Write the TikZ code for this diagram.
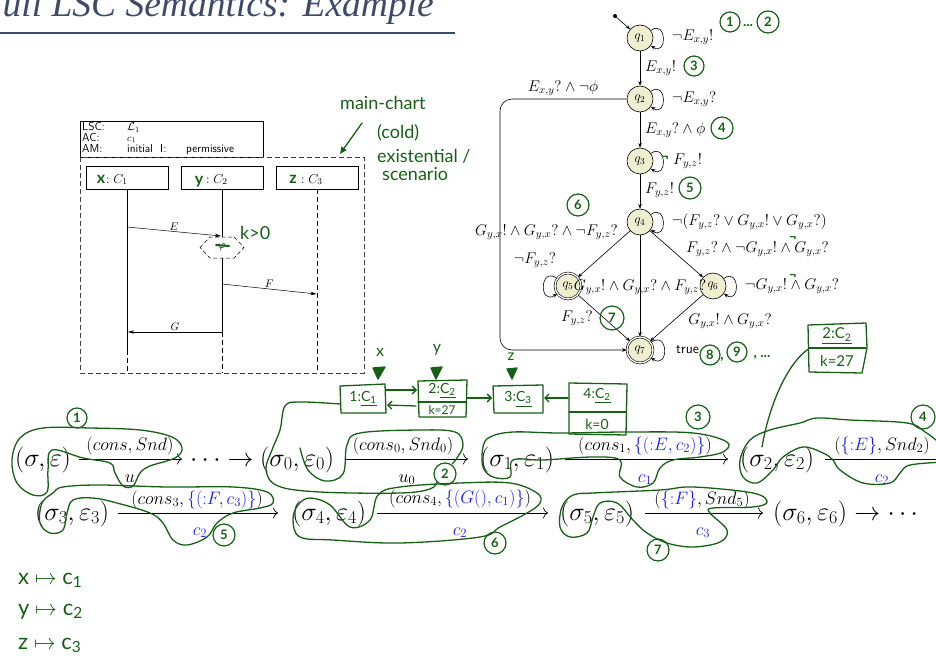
\RequirePackage{fix-cm}
\documentclass[tikz,border=0pt]{standalone}
\usepackage{amsmath,amssymb}
\usepackage{fontspec}
\newfontfamily\titlefont{Liberation Serif}
\newfontfamily\hand{Lato}
\usetikzlibrary{arrows.meta,calc}
\definecolor{hgreen}{RGB}{22,96,22}
\definecolor{qfill}{RGB}{240,238,208}
\definecolor{titleblue}{RGB}{62,74,104}
\definecolor{mblue}{RGB}{30,30,235}
\newcommand{\bl}[1]{\textcolor{mblue}{#1}}
\tikzset{
 hw/.style={hgreen, line width=1.3pt, line cap=round, line join=round},
 hwarrow/.style={hw, -{Straight Barb[length=4pt,width=8pt]}},
 hwtext/.style={text=hgreen, font=\hand\fontsize{18}{19}\selectfont, inner sep=0},
 hwnum/.style={circle, draw=hgreen, line width=1.2pt, text=hgreen, inner sep=0, minimum size=21pt, font=\hand\bfseries\fontsize{13}{13}\selectfont},
 state/.style={circle, draw, fill=qfill, minimum size=26pt, inner sep=0, line width=0.6pt, font=\fontsize{13}{13}\selectfont},
 accept/.style={state, double, double distance=1.3pt},
 trans/.style={-{Stealth[length=4.5pt,width=3.5pt]}, line width=0.6pt},
 albl/.style={inner sep=0, font=\fontsize{15.5}{16}\selectfont},
 rowfont/.style={inner sep=0, font=\fontsize{26}{28}\selectfont},
 rlbl/.style={inner sep=0, font=\fontsize{18}{20}\selectfont},
 runarrow/.style={-{Computer Modern Rightarrow[length=5pt,width=11pt]}, line width=0.7pt},
 lscsf/.style={inner sep=0, font=\sffamily\fontsize{11.5}{12}\selectfont, anchor=base west},
 inst/.style={draw, minimum width=82pt, minimum height=23pt, inner sep=0, line width=0.5pt},
 msg/.style={-{Stealth[length=6pt,width=3.5pt]}, line width=0.5pt},
 mlbl/.style={inner sep=1pt, font=\fontsize{11}{11}\selectfont},
 lsdash/.style={dashed, dash pattern=on 5pt off 3pt, line width=0.5pt},
}
\begin{document}
\begin{tikzpicture}[x=1pt,y=-1pt]
\useasboundingbox (0,0) rectangle (936,658);
\begin{scope}
\clip (0,0) rectangle (936,658);

% ---------- title ----------
\node[anchor=base east, inner sep=0, text=titleblue, font=\titlefont\itshape\fontsize{37.5}{40}\selectfont] (title) at (434,16.5) {Full LSC Semantics: Example};
\draw[titleblue, line width=2.4pt] (-5,33) -- (455,33);

% ---------- LSC ----------
\node[draw, anchor=north west, minimum width=183pt, minimum height=36pt, inner sep=0, line width=0.5pt] (hdr) at (80,121) {};
\node[lscsf] (t1) at (82,131) {LSC:};
\node[lscsf] (t1v) at (127,131) {$\mathcal{L}_1$};
\node[lscsf] (t2) at (82,141) {AC:};
\node[lscsf, font=\fontsize{10}{10}\selectfont] (t2v) at (127,141) {$c_1$};
\node[lscsf] (t3) at (82,152) {AM:};
\node[lscsf] (t3v) at (127,152) {initial};
\node[lscsf] (t3i) at (160,152) {I:};
\node[lscsf] (t3p) at (186,152) {permissive};
\draw[lsdash, black!75] (80,157) rectangle (364,373);

\node[inst] (i1) at (127,177.5) {};
\node[inst] (i2) at (222,177.5) {};
\node[inst] (i3) at (317.5,177.5) {};
\node[anchor=base west, inner sep=0, font=\fontsize{13}{14}\selectfont] (i1l) at (106,183) {$:C_1$};
\node[anchor=base west, inner sep=0, font=\fontsize{13}{14}\selectfont] (i2l) at (206,183) {$:C_2$};
\node[anchor=base west, inner sep=0, font=\fontsize{13}{14}\selectfont] (i3l) at (301,183) {$:C_3$};
\node[hwtext, anchor=base, font=\hand\bfseries\fontsize{16}{16}\selectfont] (i1h) at (101,183) {x};
\node[hwtext, anchor=base, font=\hand\bfseries\fontsize{16}{16}\selectfont] (i2h) at (199,184) {y};
\node[hwtext, anchor=base, font=\hand\bfseries\fontsize{16}{16}\selectfont] (i3h) at (293,183) {z};

\draw[line width=0.5pt] (i1.south) -- (127,350);
\draw[lsdash] (127,350) -- (127,373);
\draw[line width=0.5pt] (i2.south) -- (222,237);
\node[inner sep=0, font=\fontsize{11}{11}\selectfont] (cond) at (222,247.5) {$\varphi$};
\draw[lsdash, dash pattern=on 4pt off 2.5pt] ($(cond)+(-22,0)$) -- ++(10,-10.5) -- ++(24,0) -- ++(10,10.5) -- ++(-10,10.5) -- ++(-24,0) -- cycle;
\draw[line width=0.5pt] (222,258) -- (222,332);
\draw[lsdash] (222,332) -- (222,373);
\draw[lsdash] (i3.south) -- (317.5,373);

\draw[msg] (127,227) -- node[mlbl, above] (lE) {$E$} (221,236);
\draw[msg] (222,284) -- node[mlbl, above] (lF) {$F$} (316.5,294);
\draw[msg] (222,332) -- node[mlbl, above] (lG) {$G$} (128,332);

\draw[hw, line width=2pt] (216,245) -- (229,246);
\node[hwtext, anchor=west, font=\hand\fontsize{18}{18}\selectfont] (k0) at (240,233) {k>0};

\node[hwtext, anchor=base west] (mc1) at (340,110) {main-chart};
\node[hwtext, anchor=base west] (mc2) at (377,138) {(cold)};
\node[hwtext, anchor=base west] (mc3) at (377,162) {existential /};
\node[hwtext, anchor=base west] (mc4) at (382,180) {scenario};
\draw[hw, -{Triangle[length=7pt,width=6pt]}] (362,123) -- (340,154);

% ---------- automaton ----------
\node[state] (q1) at (640,38) {$q_1$};
\node[state] (q2) at (640,99) {$q_2$};
\node[state] (q3) at (640,161) {$q_3$};
\node[state] (q4) at (640,222) {$q_4$};
\node[accept] (q5) at (568,286) {$q_5$};
\node[state] (q6) at (713,286) {$q_6$};
\node[accept] (q7) at (640,350) {$q_7$};
\coordinate (init) at (615,16);
\fill (init) circle (2pt);
\draw[trans] (init) -- (q1);
\draw[trans] (q1) -- (q2);
\draw[trans] (q2) -- (q3);
\draw[trans] (q3) -- (q4);
\draw[trans] (q4) -- (q5);
\draw[trans] (q4) -- (q6);
\draw[trans] (q4) -- (q7);
\draw[trans] (q5) -- (q7);
\draw[trans] (q6) -- (q7);
\draw[trans] (q1) to[out=35,in=-35,distance=20pt] (q1);
\draw[trans] (q2) to[out=35,in=-35,distance=20pt] (q2);
\draw[trans] (q3) to[out=35,in=-35,distance=20pt] (q3);
\draw[trans] (q4) to[out=35,in=-35,distance=20pt] (q4);
\draw[trans] (q5) to[out=145,in=215,distance=22pt] (q5);
\draw[trans] (q6) to[out=35,in=-35,distance=20pt] (q6);
\draw[trans] (q7) to[out=35,in=-35,distance=22pt] (q7);
\draw[trans, rounded corners=12pt] (q2.west) -- (500,99) -- (500,350) -- (q7.west);

\node[albl, anchor=west] (l11) at (672,37) {$\neg E_{x,y}!$};
\node[albl, anchor=west] (l12) at (645,68) {$E_{x,y}!$};
\node[albl, anchor=west] (l22) at (672,99) {$\neg E_{x,y}?$};
\node[albl, anchor=west] (l23) at (645,130) {$E_{x,y}? \wedge \phi$};
\node[albl, anchor=west] (l33) at (673,161) {$F_{y,z}!$};
\node[albl, anchor=west] (l34) at (645,190) {$F_{y,z}!$};
\node[albl, anchor=west] (l44) at (672,222) {$\neg(F_{y,z}? \vee G_{y,x}! \vee G_{y,x}?)$};
\node[albl, anchor=east] (l45) at (618,232) {$G_{y,x}! \wedge G_{y,x}? \wedge \neg F_{y,z}?$};
\node[albl, anchor=west] (l46) at (686,249) {$F_{y,z}? \wedge \neg G_{y,x}! \wedge G_{y,x}?$};
\node[albl] (l55) at (535,260) {$\neg F_{y,z}?$};
\node[albl] (l47) at (640,287) {$G_{y,x}! \wedge G_{y,x}? \wedge F_{y,z}?$};
\node[albl, anchor=west] (l66) at (745,286) {$\neg G_{y,x}! \wedge G_{y,x}?$};
\node[albl] (l57) at (577,318) {$F_{y,z}?$};
\node[albl] (l67) at (730,321) {$G_{y,x}! \wedge G_{y,x}?$};
\node[albl, anchor=west, font=\sffamily\fontsize{14}{14}\selectfont] (l77) at (676,350) {true};
\node[albl] (l27) at (563,88) {$E_{x,y}? \wedge \neg\phi$};

% green on automaton
\node[hwnum, minimum size=20pt] (n1a) at (730,22) {1};
\node[hwtext, font=\hand\bfseries\fontsize{14}{14}\selectfont] (dots1) at (748,26) {...};
\node[hwnum, minimum size=22pt] (n2a) at (768,22) {2};
\node[hwnum, minimum size=20pt] (n3a) at (694,66) {3};
\node[hwnum, minimum size=22pt] (n4a) at (722,128) {4};
\node[hwnum, minimum size=22pt] (n5a) at (690,188) {5};
\node[hwnum, minimum size=22pt] (n6a) at (578,205) {6};
\node[hwnum, minimum size=24pt] (n7a) at (612,318) {7};
\node[hwnum, minimum size=20pt] (n8a) at (710,355) {8};
\node[hwtext, font=\hand\bfseries\fontsize{14}{14}\selectfont] (c8) at (722,359) {,};
\node[hwnum, minimum size=20pt] (n9a) at (737,352) {9};
\node[hwtext, font=\hand\bfseries\fontsize{14}{14}\selectfont] (c9) at (762,357) {, ...};
\node[hwtext, font=\hand\bfseries\fontsize{14}{14}\selectfont] (neg1) at (665,159) {¬};
\node[hwtext, font=\hand\bfseries\fontsize{13}{13}\selectfont] (neg2) at (793,239) {¬};
\node[hwtext, font=\hand\bfseries\fontsize{13}{13}\selectfont] (neg3) at (793,277) {¬};

% ---------- run ----------
\node[rowfont, anchor=base west] (r0) at (15,466) {$(\sigma, \varepsilon)$};
\draw[runarrow] (79,459) -- (182,459);
\node[rlbl, anchor=base] (a1t) at (130,450) {$(cons, Snd)$};
\node[rlbl, anchor=base] (a1b) at (130,482) {$u$};
\node[rowfont, anchor=base west] (rd) at (190,466) {$\cdots \rightarrow$};
\node[rowfont, anchor=base west] (r1) at (260,466) {$(\sigma_0, \varepsilon_0)$};
\draw[runarrow] (345,459) -- (468,459);
\node[rlbl, anchor=base] (a2t) at (403,450) {$(cons_0, Snd_0)$};
\node[rlbl, anchor=base] (a2b) at (407,482) {$u_0$};
\node[rowfont, anchor=base west] (r2) at (480,466) {$(\sigma_1, \varepsilon_1)$};
\draw[runarrow] (565,459) -- (728,459);
\node[rlbl, anchor=base] (a3t) at (645,450) {$(cons_1, \bl{\{(\mathord{:}E, c_2)\}})$};
\node[rlbl, anchor=base] (a3b) at (645,482) {$\bl{c_1}$};
\node[rowfont, anchor=base west] (r3) at (740,466) {$(\sigma_2, \varepsilon_2)$};
\draw[runarrow] (825,459) -- (960,459);
\node[rlbl, anchor=base] (a4t) at (882,450) {$(\bl{\{\mathord{:}E\}}, Snd_2)$};
\node[rlbl, anchor=base] (a4b) at (882,482) {$\bl{c_2}$};

\node[rowfont, anchor=base west] (r4) at (35,520) {$(\sigma_3, \varepsilon_3)$};
\draw[runarrow] (118,513) -- (278,513);
\node[rlbl, anchor=base] (a5t) at (197,504) {$(cons_3, \bl{\{(\mathord{:}F, c_3)\}})$};
\node[rlbl, anchor=base] (a5b) at (200,535) {$\bl{c_2}$};
\node[rowfont, anchor=base west] (r5) at (292,520) {$(\sigma_4, \varepsilon_4)$};
\draw[runarrow] (377,513) -- (548,513);
\node[rlbl, anchor=base] (a6t) at (460,503) {$(cons_4, \bl{\{(G(), c_1)\}})$};
\node[rlbl, anchor=base] (a6b) at (460,535) {$\bl{c_2}$};
\node[rowfont, anchor=base west] (r6) at (560,520) {$(\sigma_5, \varepsilon_5)$};
\draw[runarrow] (645,513) -- (763,513);
\node[rlbl, anchor=base] (a7t) at (702,504) {$(\bl{\{\mathord{:}F\}}, Snd_5)$};
\node[rlbl, anchor=base] (a7b) at (703,535) {$\bl{c_3}$};
\node[rowfont, anchor=base west] (r7) at (773,520) {$(\sigma_6, \varepsilon_6) \rightarrow \cdots$};

% ---------- handwriting on run ----------
\node[hwnum, minimum size=20pt] (n1) at (77,418) {1};
\draw[hw] plot[smooth cycle, tension=0.6] coordinates {(43,428)(20,438)(12,460)(17,483)(33,495)(47,492)(48,470)(52,450)(83,458)(110,463)(115,473)(123,486)(133,486)(140,473)(150,466)(175,458)(182,448)(172,437)(140,430)(90,428)};

\node[hwnum, minimum size=22pt] (n2) at (445,474) {2};
\draw[hw] plot[smooth, tension=0.6] coordinates {(340,404)(300,402)(285,406)(280,430)(272,450)(266,470)(278,486)(320,492)(400,493)(430,489)(437,482)};
\draw[hw] plot[smooth, tension=0.6] coordinates {(300,448)(308,470)(325,481)(343,474)(347,445)(360,433)(420,430)(455,432)(463,445)(457,458)(452,464)};

\node[hwnum, minimum size=24pt] (n3) at (698,417) {3};
\draw[hw] plot[smooth cycle, tension=0.6] coordinates {(490,437)(513,432)(560,433)(627,432)(693,433)(727,442)(723,452)(700,457)(673,460)(660,468)(653,483)(637,487)(620,477)(620,460)(593,457)(543,460)(513,460)(510,477)(493,477)(483,467)(483,447)};

\node[hwnum, minimum size=24pt] (n4) at (923,417) {4};
\draw[hw] plot[smooth, tension=0.6] coordinates {(945,447)(936,440)(925,432)(907,423)(850,420)(817,418)(800,423)(770,430)(750,440)(740,460)(743,477)(757,483)(773,470)(783,457)(803,447)(823,453)(833,460)(840,470)(863,483)(890,483)(900,473)(910,465)(945,462)};
\draw[hw] (762,447) .. controls (770,400) and (790,360) .. (810,348);
\draw[hw] (808,325) -- (866,323) -- (867,348) -- (862,373) -- (809,372) -- cycle;
\draw[hw] (809,348) -- (866,348);
\node[hwtext, font=\hand\fontsize{15}{15}\selectfont] (bt1) at (837,336) {\underline{2:C\textsubscript{2}}};
\node[hwtext, font=\hand\fontsize{15}{15}\selectfont] (bt2) at (837,361) {k=27};

\node[hwnum, minimum size=22pt] (n5) at (224,535) {5};
\draw[hw] plot[smooth cycle, tension=0.6] coordinates {(63,487)(100,485)(167,487)(233,487)(267,492)(273,503)(260,508)(233,513)(217,523)(207,537)(187,545)(173,540)(163,523)(150,513)(117,503)(93,498)(73,500)(67,513)(63,530)(50,533)(40,523)(42,503)(53,493)};

\node[hwnum, minimum size=22pt] (n6) at (495,543) {6};
\draw[hw] plot[smooth cycle, tension=0.6] coordinates {(298,505)(310,498)(330,505)(350,527)(370,520)(378,495)(400,487)(460,483)(510,483)(537,493)(540,503)(527,513)(500,527)(480,537)(400,543)(333,540)(300,537)(293,520)};

\node[hwnum, minimum size=22pt] (n7) at (658,550) {7};
\draw[hw] plot[smooth cycle, tension=0.6] coordinates {(573,495)(593,493)(660,490)(693,487)(753,493)(767,502)(753,507)(713,508)(710,513)(727,530)(720,542)(693,547)(667,543)(647,533)(633,520)(617,503)(600,503)(593,517)(587,533)(570,537)(560,527)(562,507)};

% object boxes
\draw[hw] (340,386) -- (385,384) -- (386,413) -- (341,413) -- cycle;
\node[hwtext, font=\hand\fontsize{14}{14}\selectfont] (bA) at (363,399) {1:\underline{C\textsubscript{1}}};
\draw[hw] (418,381) -- (467,380) -- (466,417) -- (419,417) -- cycle;
\draw[hw] (418,402) -- (466,402);
\node[hwtext, font=\hand\fontsize{14}{14}\selectfont] (bB1) at (442,391) {2:\underline{C\textsubscript{2}}};
\node[hwtext, font=\hand\fontsize{12}{12}\selectfont] (bB2) at (442,410) {k=27};
\draw[hw] (493,386) -- (543,385) -- (543,413) -- (494,413) -- cycle;
\node[hwtext, font=\hand\fontsize{14}{14}\selectfont] (bC) at (518,399) {3:\underline{C\textsubscript{3}}};
\draw[hw] (569,383) -- (627,384) -- (626,435) -- (569,434) -- cycle;
\draw[hw] (569,412) -- (626,412);
\node[hwtext, font=\hand\fontsize{14}{14}\selectfont] (bD1) at (597,396) {4:\underline{C\textsubscript{2}}};
\node[hwtext, font=\hand\fontsize{14}{14}\selectfont] (bD2) at (597,424) {k=0};
\draw[hwarrow] (386,390) -- (417,390);
\draw[hwarrow] (416,406) -- (387,405);
\draw[hwarrow] (467,398) -- (492,398);
\draw[hwarrow] (568,398) -- (544,398);

\node[hwtext, font=\hand\fontsize{16}{16}\selectfont] (hx) at (380,352) {x};
\draw[hw, fill=hgreen] (373,368) -- (385,367) -- (378,379) -- cycle;
\node[hwtext, font=\hand\fontsize{16}{16}\selectfont] (hy) at (437,350) {y};
\draw[hw, fill=hgreen] (431,368) -- (442,367) -- (436,379) -- cycle;
\node[hwtext, font=\hand\fontsize{15}{15}\selectfont] (hz) at (511,357) {z};
\draw[hw, fill=hgreen] (507,369) -- (517,368) -- (512,379) -- cycle;

% mapping
\node[hwtext, anchor=base west, font=\hand\fontsize{22}{22}\selectfont] (m1) at (18,584) {x $\mapsto$ c\textsubscript{1}};
\node[hwtext, anchor=base west, font=\hand\fontsize{22}{22}\selectfont] (m2) at (18,615) {y $\mapsto$ c\textsubscript{2}};
\node[hwtext, anchor=base west, font=\hand\fontsize{22}{22}\selectfont] (m3) at (18,649) {z $\mapsto$ c\textsubscript{3}};
\end{scope}
\end{tikzpicture}
\end{document}
